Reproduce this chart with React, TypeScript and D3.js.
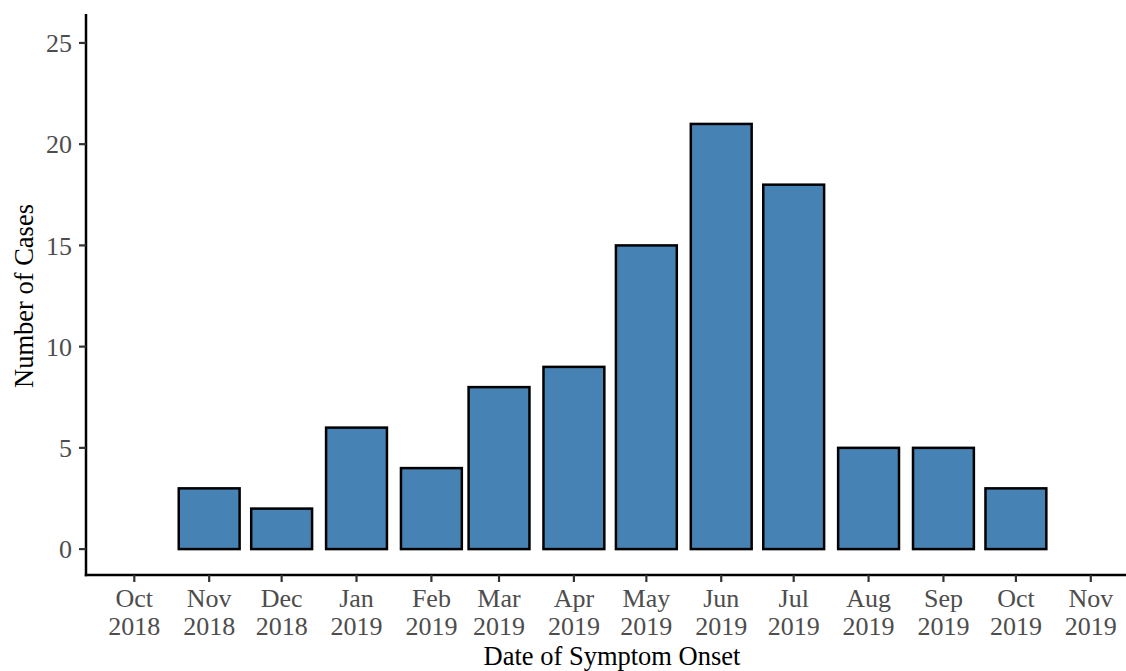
import * as d3 from 'd3'

const months = ['2018-11-01', '2018-12-01', '2019-01-01', '2019-02-01', '2019-03-01', '2019-04-01',
  '2019-05-01', '2019-06-01', '2019-07-01', '2019-08-01', '2019-09-01', '2019-10-01']
const cases = [3, 2, 6, 4, 8, 9, 15, 21, 18, 5, 5, 3]
const xTicks = ['2018-10-01', '2018-11-01', '2018-12-01', '2019-01-01', '2019-02-01', '2019-03-01',
  '2019-04-01', '2019-05-01', '2019-06-01', '2019-07-01', '2019-08-01', '2019-09-01', '2019-10-01', '2019-11-01']
const yTicks = [0, 5, 10, 15, 20, 25]

const W = 1126
const H = 671
const FONT = '"Liberation Serif", "Times New Roman", serif'
const DAY = 86400000
const BAR_DAYS = 25.2

export default function App() {
  const x = d3.scaleUtc()
    .domain([Date.UTC(2018, 8, 11), Date.UTC(2019, 10, 15, 14)])
    .range([86, 1126])
  const y = d3.scaleLinear().domain([-1.28, 26.43]).range([575, 14])
  const fmtMon = d3.utcFormat('%b')
  const fmtYear = d3.utcFormat('%Y')
  const parse = (s: string) => new Date(s + 'T00:00:00Z')

  return (
    <div style={{ position: 'absolute', left: 0, top: 0 }}>
      <svg width={W} height={H} style={{ display: 'block', background: '#fff' }}>
        {/* bars */}
        {months.map((m, i) => {
          const c = parse(m).getTime()
          const x0 = x(c - (BAR_DAYS / 2) * DAY)
          const x1 = x(c + (BAR_DAYS / 2) * DAY)
          return (
            <rect key={m} x={x0} y={y(cases[i])} width={x1 - x0} height={y(0) - y(cases[i])}
              fill="#4682B4" stroke="#000" strokeWidth={2.5} />
          )
        })}

        {/* y axis */}
        <line x1={86} x2={86} y1={14} y2={576.2} stroke="#000" strokeWidth={2.5} />
        {yTicks.map(t => (
          <g key={t} transform={`translate(0,${y(t)})`}>
            <line x1={79} x2={86} stroke="#333" strokeWidth={2.2} />
            <text x={72} dy="0.35em" textAnchor="end" fontFamily={FONT} fontSize={26} fill="#4D4D4D">{t}</text>
          </g>
        ))}

        {/* x axis */}
        <line x1={84.8} x2={1126} y1={575} y2={575} stroke="#000" strokeWidth={2.5} />
        {xTicks.map(s => {
          const d = parse(s)
          return (
            <g key={s} transform={`translate(${x(d)},0)`}>
              <line y1={575} y2={582} stroke="#333" strokeWidth={2.2} />
              <text y={607} textAnchor="middle" fontFamily={FONT} fontSize={26} fill="#4D4D4D">{fmtMon(d)}</text>
              <text y={635} textAnchor="middle" fontFamily={FONT} fontSize={26} fill="#4D4D4D">{fmtYear(d)}</text>
            </g>
          )
        })}

        {/* titles */}
        <text x={612} y={665} textAnchor="middle" fontFamily={FONT} fontSize={26.5} fill="#000">Date of Symptom Onset</text>
        <text transform="translate(33,296) rotate(-90)" textAnchor="middle" fontFamily={FONT} fontSize={26.5} fill="#000">Number of Cases</text>
      </svg>
    </div>
  )
}
